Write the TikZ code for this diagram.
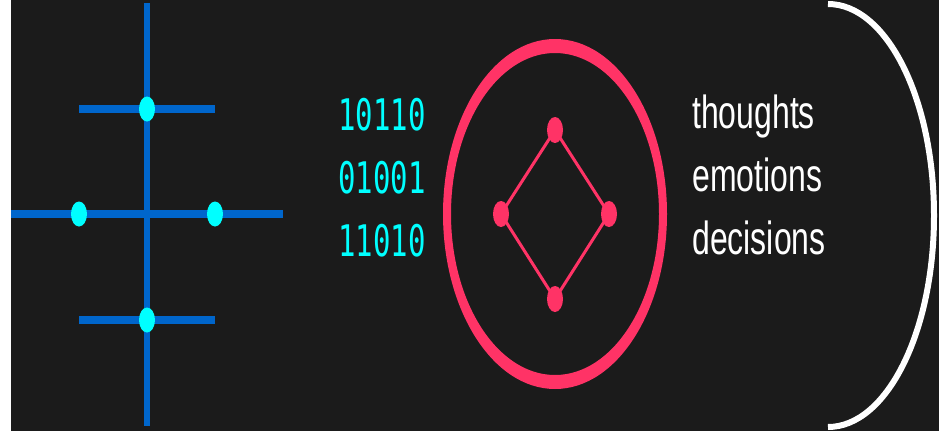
\documentclass[tikz,border=0pt]{standalone}
\usepackage{fontspec}
\usepackage{graphicx}
\setmainfont{Liberation Sans}
\newfontfamily\binfont{DejaVu Sans Mono}
\usetikzlibrary{shapes.geometric,backgrounds}
\definecolor{bgdark}{HTML}{1B1B1B}
\definecolor{netblue}{HTML}{0066CC}
\definecolor{dotcyan}{HTML}{00FFFF}
\definecolor{ringpink}{HTML}{FF3366}
\tikzset{
  cyandot/.style={ellipse, fill=dotcyan, draw=none, inner sep=0pt, minimum width=16pt, minimum height=25pt},
  pinkdot/.style={ellipse, fill=ringpink, draw=none, inner sep=0pt, minimum width=16pt, minimum height=26pt},
  bar/.style={netblue, line width=8pt},
  spine/.style={netblue, line width=6pt},
  edge/.style={ringpink, line width=3pt},
  bintext/.style={anchor=base west, inner sep=0pt, text=dotcyan, font=\binfont\fontsize{29}{29}\selectfont},
  wordtext/.style={anchor=base west, inner sep=0pt, text=white, font=\fontsize{32}{32}\selectfont},
}
\begin{document}
\begin{tikzpicture}[x=1pt,y=-1pt]
\useasboundingbox (0,0) rectangle (939,431);
% dots
\node[cyandot] (ct) at (147,109) {};
\node[cyandot] (cl) at (79,214) {};
\node[cyandot] (cr) at (215,214) {};
\node[cyandot] (cb) at (147,320) {};
\node[pinkdot] (pt) at (555,130) {};
\node[pinkdot] (pl) at (501,214) {};
\node[pinkdot] (pr) at (609,214) {};
\node[pinkdot] (pb) at (555,299) {};
% texts
\node[bintext] (b1) at (338,130) {\scalebox{1}[1.5]{10110}};
\node[bintext] (b2) at (338,193) {\scalebox{1}[1.5]{01001}};
\node[bintext] (b3) at (338,256) {\scalebox{1}[1.5]{11010}};
\node[wordtext] (w1) at (692,128) {\scalebox{1}[1.45]{thoughts}};
\node[wordtext] (w2) at (692,191) {\scalebox{1}[1.45]{emotions}};
\node[wordtext] (w3) at (692,254) {\scalebox{1}[1.45]{decisions}};
\begin{scope}[on background layer]
  \fill[white] (0,0) rectangle (939,431);
  \fill[bgdark] (11,0) rectangle (939,431);
  % blue network
  \coordinate (vtop) at (147,3);
  \coordinate (vbot) at (147,426);
  \coordinate (tl) at (79,109);
  \coordinate (tr) at (215,109);
  \coordinate (ml) at (11,214);
  \coordinate (mr) at (283,214);
  \coordinate (bl) at (79,320);
  \coordinate (br) at (215,320);
  \draw[bar] (tl) -- (tr);
  \draw[bar] (ml) -- (mr);
  \draw[bar] (bl) -- (br);
  \draw[spine] (vtop) -- (vbot);
  % pink ring
  \coordinate (rc) at (555,214);
  \fill[ringpink, even odd rule] (rc) ellipse [x radius=112pt, y radius=175pt]
                                 (rc) ellipse [x radius=104pt, y radius=161pt];
  \draw[edge] (pt.center) -- (pr.center) -- (pb.center) -- (pl.center) -- cycle;
  % white arc
  \coordinate (atop) at (828,4);
  \draw[white, line width=6pt] (atop) arc[start angle=90, end angle=-90, x radius=106pt, y radius=211.5pt];
\end{scope}
\end{tikzpicture}
\end{document}
